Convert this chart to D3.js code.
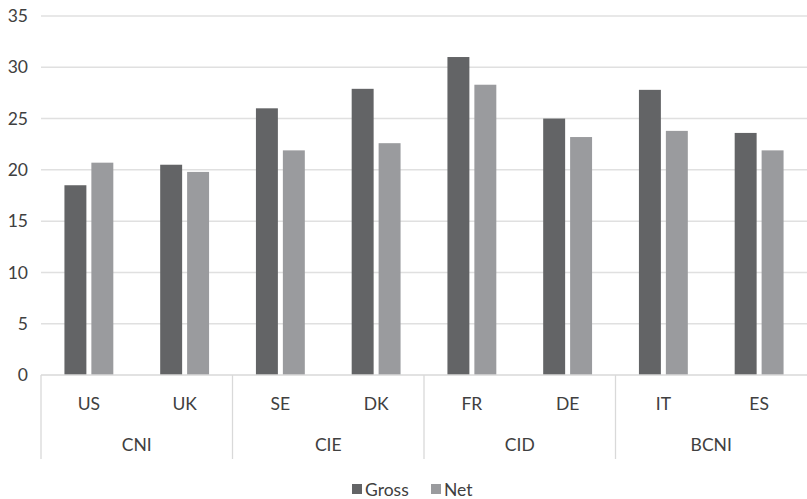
<!DOCTYPE html>
<html>
<head>
<meta charset="utf-8">
<script src="https://cdn.jsdelivr.net/npm/d3@7"></script>
<style>
  html, body { margin: 0; padding: 0; background: #fff; }
  svg { display: block; font-family: Lato, "Open Sans", sans-serif; }
</style>
</head>
<body>
<svg id="chart" width="807" height="499"></svg>
<script>
const categories = ["US", "UK", "SE", "DK", "FR", "DE", "IT", "ES"];
const groups = ["CNI", "CNI", "CIE", "CIE", "CID", "CID", "BCNI", "BCNI"];
const groupNames = ["CNI", "CIE", "CID", "BCNI"];
const seriesNames = ["Gross", "Net"];
const gross = [18.5, 20.5, 26.0, 27.9, 31.0, 25.0, 27.8, 23.6];
const net = [20.7, 19.8, 21.9, 22.6, 28.3, 23.2, 23.8, 21.9];
const yTicks = [0, 5, 10, 15, 20, 25, 30, 35];
const colors = ["#636466", "#9a9b9e"];

(function () {
const svg = d3.select("#chart");
const mLeft = 41, mRight = 807, mTop = 16, mBottom = 375;
const textColor = "#404040";
const fontSize = 17.5;

const y = d3.scaleLinear().domain([0, 35]).range([mBottom, mTop]);
const x0 = d3.scaleBand().domain(categories).range([mLeft, mRight]).padding(0);
const x1 = d3.scaleBand().domain(seriesNames).range([0, x0.bandwidth()])
  .paddingInner(0.185).paddingOuter(0.87);

// gridlines
svg.append("g").selectAll("line").data(yTicks.filter(d => d > 0)).join("line")
  .attr("x1", mLeft).attr("x2", mRight)
  .attr("y1", d => y(d)).attr("y2", d => y(d))
  .attr("stroke", "#e0e0e0").attr("stroke-width", 1.5);

// y axis labels
const yAxis = d3.axisLeft(y).tickValues(yTicks).tickSize(0).tickPadding(13);
const gy = svg.append("g").attr("transform", `translate(${mLeft},0)`).call(yAxis);
gy.select(".domain").remove();
gy.selectAll("text").attr("fill", textColor).style("font-size", fontSize + "px")
  .style("font-family", "Lato, 'Open Sans', sans-serif");

// bars
const data = categories.map((c, i) => ({ cat: c, vals: [gross[i], net[i]] }));
const gBars = svg.append("g");
gBars.selectAll("g").data(data).join("g")
  .attr("transform", d => `translate(${x0(d.cat)},0)`)
  .selectAll("rect").data(d => d.vals.map((v, j) => ({ s: seriesNames[j], v, j })))
  .join("rect")
  .attr("x", d => x1(d.s))
  .attr("width", x1.bandwidth())
  .attr("y", d => y(d.v))
  .attr("height", d => y(0) - y(d.v))
  .attr("fill", d => colors[d.j]);

// x axis baseline
svg.append("line").attr("x1", mLeft).attr("x2", mRight)
  .attr("y1", y(0)).attr("y2", y(0)).attr("stroke", "#d9d9d9").attr("stroke-width", 1.5);

// group separators
const groupStarts = [];
groups.forEach((g, i) => { if (i === 0 || groups[i - 1] !== g) groupStarts.push(i); });
svg.append("g").selectAll("line").data(groupStarts).join("line")
  .attr("x1", i => x0(categories[i])).attr("x2", i => x0(categories[i]))
  .attr("y1", y(0)).attr("y2", 459)
  .attr("stroke", "#d9d9d9").attr("stroke-width", 1.3);

// category labels
svg.append("g").selectAll("text").data(categories).join("text")
  .attr("x", d => x0(d) + x0.bandwidth() / 2)
  .attr("y", 410)
  .attr("text-anchor", "middle")
  .attr("fill", textColor).style("font-size", fontSize + "px")
  .text(d => d);

// group labels
svg.append("g").selectAll("text").data(groupNames).join("text")
  .attr("x", g => {
    const idx = groups.map((d, i) => d === g ? i : -1).filter(i => i >= 0);
    const a = x0(categories[idx[0]]);
    const b = x0(categories[idx[idx.length - 1]]) + x0.bandwidth();
    return (a + b) / 2;
  })
  .attr("y", 451)
  .attr("text-anchor", "middle")
  .attr("fill", textColor).style("font-size", fontSize + "px")
  .text(d => d);

// legend
const legend = svg.append("g");
const items = [{ name: "Gross", x: 352 }, { name: "Net", x: 431 }];
items.forEach((it, i) => {
  legend.append("rect").attr("x", it.x).attr("y", 484).attr("width", 10).attr("height", 10)
    .attr("fill", colors[i]);
  legend.append("text").attr("x", it.x + 13).attr("y", 495.5)
    .attr("fill", textColor).style("font-size", fontSize + "px").text(it.name);
});
})();
</script>
</body>
</html>
